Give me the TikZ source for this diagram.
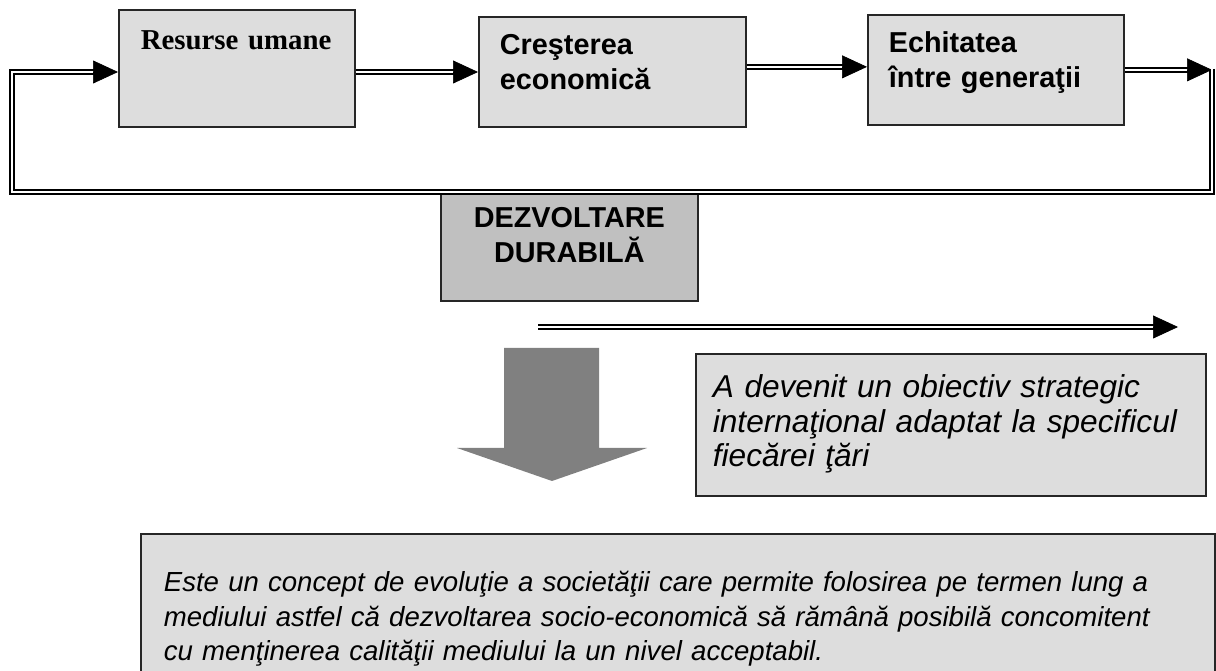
\documentclass[tikz,border=0pt]{standalone}
\usepackage{fontspec}
\setmainfont{Liberation Sans}
\newfontfamily\timesfont{Liberation Serif}
\usetikzlibrary{arrows.meta,calc}

\definecolor{lightbox}{HTML}{DDDDDD}
\definecolor{darkbox}{HTML}{C0C0C0}
\definecolor{bigarrow}{HTML}{808080}

\tikzset{
    box/.style={draw=black!85, line width=1pt, fill=lightbox, anchor=north west,
        inner ysep=0pt, align=left},
    headfont/.style={font=\fontsize{16.4pt}{19.8pt}\selectfont\bfseries},
    notefont/.style={font=\fontsize{18pt}{19.6pt}\selectfont\itshape},
    dbl/.style={double, double distance=1.2pt, line width=1.1pt, shorten >=0.45cm},
    tip/.style={line width=0.4pt, -{Triangle[length=0.5cm, width=0.46cm]}}
}
% double line with a filled head
\newcommand{\dblarrow}[2]{%
    \draw[dbl] #1 -- #2;
    \draw[tip] ($#2+(-1pt,0)$) -- #2;}

\begin{document}
\begin{tikzpicture}[x=0.02cm, y=-0.02cm]
    \useasboundingbox (0,0) rectangle (1216,671);
    % Top row
    \node[box, font=\fontsize{16.4pt}{19.8pt}\selectfont\timesfont\bfseries, text width=3.84cm,
        inner xsep=0.44cm, text height=0.8cm, text depth=1.54cm] (resurse) at (118,9) {Resurse umane};
    \node[box, headfont, text width=4.5cm, inner xsep=0.42cm,
        text height=0.76cm, text depth=1.44cm] (crestere) at (478,16) {Creşterea\\economică};
    \node[box, headfont, text width=4.28cm, inner xsep=0.42cm,
        text height=0.76cm, text depth=1.44cm] (echitate) at (867,14) {Echitatea\\între generaţii};
    % Loop corners
    \coordinate (rtop) at (1212,69);
    \coordinate (rbot) at (1212,192);
    \coordinate (lbot) at (12,192);
    \coordinate (ltop) at (12,72);
    % Centre box
    \node[box, headfont, fill=darkbox, align=center, text width=4.74cm, inner xsep=0.2cm,
        text height=0.74cm, text depth=1.46cm] (dezvoltare) at (440,190) {DEZVOLTARE\\DURABILĂ};
    % Arrows of the loop
    \dblarrow{(resurse.east |- ltop)}{(crestere.west |- ltop)}
    \dblarrow{([yshift=0.1cm]crestere.east)}{([yshift=0.1cm]crestere.east -| echitate.west)}
    \dblarrow{(echitate.east)}{(echitate.east -| rtop)}
    \draw[dbl] (rtop) -- (rbot) -- (lbot) -- (ltop) -- (resurse.west |- ltop);
    \draw[tip] ($(resurse.west |- ltop)+(-1pt,0)$) -- (resurse.west |- ltop);
    % Lower part
    \coordinate (mstart) at (538,327);
    \coordinate (mend) at (1178,327);
    \dblarrow{(mstart)}{(mend)}
    \fill[bigarrow] (504,348) -- (599,348) -- (599,448) -- (647,448) -- (552,481)
        -- (457,448) -- (504,448) -- cycle;
    \node[box, notefont, text width=9.52cm, inner xsep=0.34cm,
        text height=0.88cm, text depth=1.96cm] (obiectiv) at (695,353)
        {A devenit un obiectiv strategic\\internaţional adaptat la specificul\\fiecărei ţări};
    \node[box, font=\fontsize{15.7pt}{19.6pt}\selectfont\itshape, text width=20.56cm,
        inner xsep=0.46cm, text height=1.16cm, text depth=2.84cm] (concept) at (140,533)
        {Este un concept de evoluţie a societăţii care permite folosirea pe termen lung a\\
        mediului astfel că dezvoltarea socio-economică să rămână posibilă concomitent\\
        cu menţinerea calităţii mediului la un nivel acceptabil.};
\end{tikzpicture}
\end{document}
